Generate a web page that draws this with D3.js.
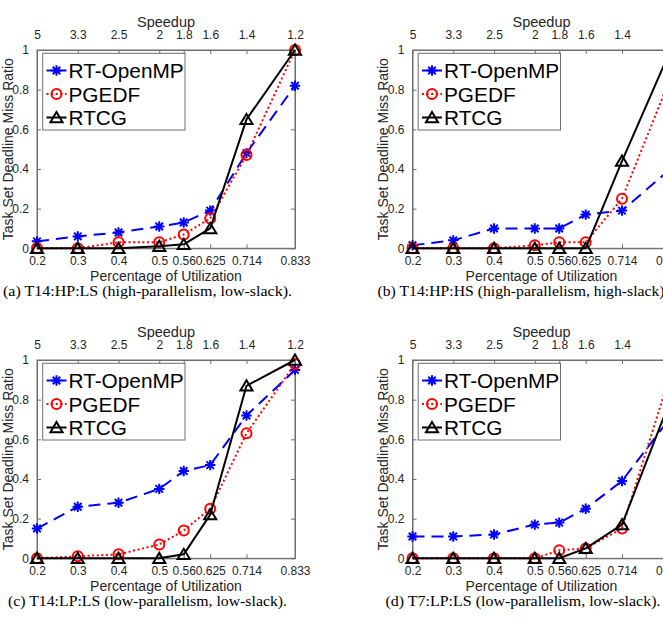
<!DOCTYPE html>
<html><head><meta charset="utf-8">
<script src="https://cdn.jsdelivr.net/npm/d3@7"></script>
<style>
html,body{margin:0;padding:0;background:#fff;overflow:hidden;}
svg{display:block;}
</style></head>
<body>
<svg id="chart" width="663" height="622"></svg>
<script>
// ---------------- data ----------------
const utilization = [0.2, 0.3, 0.4, 0.5, 0.56, 0.625, 0.714, 0.833];
const utilLabels = ["0.2","0.3","0.4","0.5","0.56","0.625","0.714","0.833"];
const speedupLabels = ["5","3.3","2.5","2","1.8","1.6","1.4","1.2"];
const yTicks = [0, 0.2, 0.4, 0.6, 0.8, 1];
const seriesNames = ["RT-OpenMP", "PGEDF", "RTCG"];

const panelA_rtopenmp = [0.035, 0.06, 0.08, 0.11, 0.13, 0.19, 0.48, 0.82];
const panelA_pgedf    = [0, 0, 0.03, 0.03, 0.07, 0.15, 0.47, 1.0];
const panelA_rtcg     = [0, 0, 0, 0.01, 0.02, 0.10, 0.65, 1.0];

const panelB_rtopenmp = [0.015, 0.04, 0.10, 0.10, 0.10, 0.17, 0.19, 0.40];
const panelB_pgedf    = [0, 0, 0, 0.015, 0.03, 0.03, 0.25, 0.86];
const panelB_rtcg     = [0, 0, 0, 0, 0, 0, 0.44, 1.0];

const panelC_rtopenmp = [0.15, 0.26, 0.28, 0.35, 0.44, 0.47, 0.72, 0.95];
const panelC_pgedf    = [0, 0.01, 0.02, 0.07, 0.14, 0.25, 0.63, 0.98];
const panelC_rtcg     = [0, 0, 0, 0, 0.02, 0.22, 0.87, 1.0];

const panelD_rtopenmp = [0.11, 0.11, 0.12, 0.17, 0.18, 0.25, 0.39, 0.71];
const panelD_pgedf    = [0, 0, 0, 0, 0.04, 0.05, 0.15, 0.93];
const panelD_rtcg     = [0, 0, 0, 0, 0, 0.05, 0.17, 0.80];

const captions = [
  "(a) T14:HP:LS (high-parallelism, low-slack).",
  "(b) T14:HP:HS (high-parallelism, high-slack).",
  "(c) T14:LP:LS (low-parallelism, low-slack).",
  "(d) T7:LP:LS (low-parallelism, low-slack)."
];

// ---------------- layout / style ----------------
const panels = [
  {ox: 0,     oy: 0,   data: [panelA_rtopenmp, panelA_pgedf, panelA_rtcg], cap: captions[0], capW: 289},
  {ox: 375.5, oy: 0,   data: [panelB_rtopenmp, panelB_pgedf, panelB_rtcg], cap: captions[1], capW: 291},
  {ox: 0,     oy: 310, data: [panelC_rtopenmp, panelC_pgedf, panelC_rtcg], cap: captions[2], capW: 279},
  {ox: 375.5, oy: 310, data: [panelD_rtopenmp, panelD_pgedf, panelD_rtcg], cap: captions[3], capW: 275}
];
const styles = [
  {color: "#0000ff", dash: "12,7", marker: "star"},
  {color: "#ff0000", dash: "2,2.6", marker: "circle"},
  {color: "#000000", dash: null,  marker: "tri"}
];
const L = 37, R = 295, T = 50, B = 248.3;
const axisColor = "#262626";
const sans = "'Liberation Sans', Arial, Helvetica, sans-serif";

const svg = d3.select("#chart");

function drawMarker(g, type, x, y, color) {
  if (type === "star") {
    const r = 5.2, d = r * 0.72;
    g.append("path")
      .attr("d", `M${x-r},${y}L${x+r},${y}M${x},${y-r}L${x},${y+r}M${x-d},${y-d}L${x+d},${y+d}M${x-d},${y+d}L${x+d},${y-d}`)
      .attr("stroke", color).attr("stroke-width", 2).attr("fill", "none");
  } else if (type === "circle") {
    g.append("circle").attr("cx", x).attr("cy", y).attr("r", 5)
      .attr("stroke", color).attr("stroke-width", 2).attr("fill", "none");
  } else {
    const h = 5.5;
    g.append("path")
      .attr("d", `M${x},${y-h}L${x+h*1.1},${y+h*0.85}L${x-h*1.1},${y+h*0.85}Z`)
      .attr("stroke", color).attr("stroke-width", 2).attr("fill", "none")
      .attr("stroke-linejoin", "miter");
  }
}

panels.forEach(p => {
  const g = svg.append("g").attr("transform", `translate(${p.ox},${p.oy})`);
  const x = d3.scaleLinear().domain([0.2, 0.833]).range([L, R]);
  const y = d3.scaleLinear().domain([0, 1]).range([B, T]);

  // box
  g.append("rect").attr("x", L).attr("y", T).attr("width", R - L).attr("height", B - T)
    .attr("fill", "#fff").attr("stroke", "#6e6e6e").attr("stroke-width", 1);

  // bottom axis (ticks inward)
  const bottom = g.append("g").attr("transform", `translate(0,${B})`)
    .call(d3.axisBottom(x).tickValues(utilization).tickSizeInner(-4).tickSizeOuter(0)
      .tickFormat((d, i) => utilLabels[i]).tickPadding(8));
  // top axis (speedup)
  const top = g.append("g").attr("transform", `translate(0,${T})`)
    .call(d3.axisTop(x).tickValues(utilization).tickSizeInner(-4).tickSizeOuter(0)
      .tickFormat((d, i) => speedupLabels[i]).tickPadding(11));
  // left axis
  const left = g.append("g").attr("transform", `translate(${L},0)`)
    .call(d3.axisLeft(y).tickValues(yTicks).tickSizeInner(-4).tickSizeOuter(0)
      .tickFormat(d => d3.format("")(d)).tickPadding(8));
  // right axis ticks
  const right = g.append("g").attr("transform", `translate(${R},0)`)
    .call(d3.axisRight(y).tickValues(yTicks).tickSizeInner(-4).tickSizeOuter(0).tickFormat(""));

  [bottom, top, left, right].forEach(a => {
    a.select(".domain").attr("stroke", "#6e6e6e");
    a.selectAll(".tick line").attr("stroke", "#6e6e6e");
    a.selectAll("text").attr("font-family", sans).attr("font-size", 12).attr("fill", axisColor);
  });
  bottom.selectAll("text").attr("dy", "0.71em");

  // axis titles
  g.append("text").attr("x", (L + R) / 2).attr("y", 26.5).attr("text-anchor", "middle")
    .attr("font-family", sans).attr("font-size", 14.5).attr("fill", axisColor).text("Speedup");
  g.append("text").attr("x", (L + R) / 2).attr("y", 280.5).attr("text-anchor", "middle")
    .attr("font-family", sans).attr("font-size", 14).attr("fill", axisColor).text("Percentage of Utilization");
  g.append("text").attr("transform", `translate(12.5,${(T + B) / 2}) rotate(-90)`)
    .attr("text-anchor", "middle").attr("font-family", sans).attr("font-size", 14)
    .attr("fill", axisColor).text("Task Set Deadline Miss Ratio");

  // series
  p.data.forEach((vals, si) => {
    const st = styles[si];
    const line = d3.line().x((d, i) => x(utilization[i])).y(d => y(d));
    g.append("path").datum(vals).attr("d", line).attr("fill", "none")
      .attr("stroke", st.color).attr("stroke-width", 2)
      .attr("stroke-dasharray", st.dash).attr("stroke-linejoin", "round");
    vals.forEach((v, i) => drawMarker(g, st.marker, x(utilization[i]), y(v), st.color));
  });

  // legend
  const lg = g.append("g");
  lg.append("rect").attr("x", 42.7).attr("y", 53.3).attr("width", 142.3).attr("height", 76.7)
    .attr("fill", "#fff").attr("stroke", "#6e6e6e").attr("stroke-width", 1);
  const rowY = [70.5, 94, 117.5];
  seriesNames.forEach((name, si) => {
    const st = styles[si];
    lg.append("line").attr("x1", 46.5).attr("x2", 66.5).attr("y1", rowY[si]).attr("y2", rowY[si])
      .attr("stroke", st.color).attr("stroke-width", 2).attr("stroke-dasharray", si === 1 ? "2,2.6" : null);
    drawMarker(lg, st.marker, 56.5, rowY[si], st.color);
    lg.append("text").attr("x", 68.5).attr("y", rowY[si] + 7.6)
      .attr("font-family", sans).attr("font-size", 20.8).attr("fill", "#000").text(name);
  });

  // caption
  g.append("text").attr("x", 147.5).attr("y", 296).attr("text-anchor", "middle")
    .attr("font-family", "'Liberation Serif', 'Times New Roman', serif").attr("font-size", 14.5)
    .attr("fill", "#000").attr("textLength", p.capW).attr("lengthAdjust", "spacingAndGlyphs")
    .text(p.cap);
});
</script>
</body></html>
